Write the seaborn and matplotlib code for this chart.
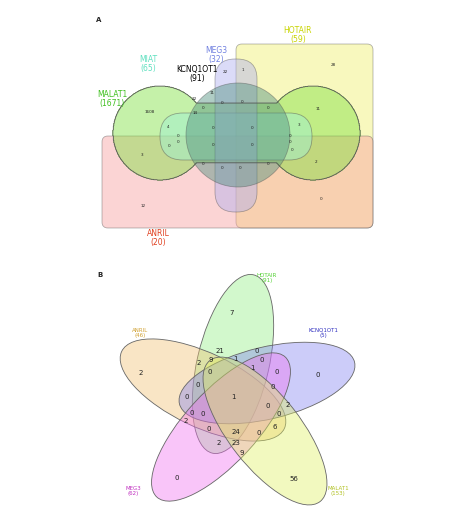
import numpy as np
import matplotlib
matplotlib.use("Agg")
import matplotlib.pyplot as plt
import seaborn as sns
from matplotlib.patches import Ellipse, FancyBboxPatch, Circle

sns.set_theme(style="white")
plt.rcParams['font.family'] = ['DejaVu Sans']

# ---------- Panel A data ----------
a_sets = ["HOTAIR", "MEG3", "MIAT", "KCNQ1OT1", "MALAT1", "ANRIL"]
a_sizes = [59, 32, 65, 91, 1671, 20]
a_label_colors = ["#c8d400", "#7080e0", "#60e0c0", "#000000", "#40c020", "#e04020"]
a_label_pos = [(298, 35), (216, 55), (148, 64), (197, 74), (112, 99), (158, 238)]
a_counts = [28, 1608, 11, 22, 1, 3, 12, 2, 0, 4, 3, 14, 22, 11,
            0, 0, 0, 0, 0, 0, 0, 0, 0, 0, 0, 0, 0, 0, 0, 0, 0, 0]
a_count_pos = [(333, 65), (150, 112), (318, 109), (225, 72), (243, 70), (142, 155),
               (143, 206), (316, 162), (321, 199), (168, 127), (299, 125), (195, 113),
               (194, 99), (212, 93),
               (213, 128), (252, 128), (213, 145), (252, 145), (222, 103), (242, 102),
               (222, 168), (240, 168), (178, 136), (178, 142), (290, 136), (290, 142),
               (169, 146), (292, 150), (203, 108), (268, 108), (203, 164), (268, 164)]

# ---------- Panel B data ----------
b_sets = ["HOTAIR", "ANRIL", "KCNQ1OT1", "MEG3", "MALAT1"]
b_sizes = [91, 46, 5, 62, 153]
b_colors = ["#90ee80", "#f0c070", "#8080f0", "#f070f0", "#e0f060"]
b_label_colors = ["#50d030", "#d0a030", "#3030c0", "#c030c0", "#b0c020"]
b_label_pos = [(267, 278), (140, 333), (323, 333), (133, 491), (338, 491)]
b_ellipses = [((233, 364), 183, 72, -77), ((203, 390), 180, 74, 25.4),
              ((267, 383), 180, 72, -13.4), ((221, 427), 190, 72, -47.5),
              ((265, 431), 179, 72, 52)]
b_counts = [7, 21, 0, 2, 9, 1, 0, 1, 0, 2, 0, 0, 0, 0, 0, 1, 0, 2, 0, 0, 0, 2,
            0, 24, 0, 6, 2, 23, 9, 0, 56]
b_count_pos = [(232, 313), (220, 351), (257, 351), (199, 363), (211, 360), (235, 359),
               (262, 360), (252, 368), (277, 372), (141, 373), (210, 372), (318, 375),
               (198, 385), (273, 387), (187, 397), (233, 397), (268, 406), (288, 405),
               (192, 413), (203, 414), (279, 414), (186, 421), (209, 429), (236, 432),
               (259, 433), (275, 427), (219, 443), (236, 443), (242, 453), (177, 478),
               (294, 479)]

fig = plt.figure(figsize=(4.74, 5.18), dpi=100)
ax = fig.add_axes([0, 0, 1, 1])
ax.set_xlim(0, 474)
ax.set_ylim(518, 0)
ax.axis("off")

# ---- Panel A shapes ----
ec = "#555555"
ax.add_patch(FancyBboxPatch((236, 44), 137, 184, boxstyle="round,pad=0,rounding_size=6",
                            fc="#f0f070", ec=ec, lw=0.6, alpha=0.45))
ax.add_patch(FancyBboxPatch((102, 136), 271, 92, boxstyle="round,pad=0,rounding_size=6",
                            fc="#f8a0a0", ec=ec, lw=0.6, alpha=0.45))
# MALAT1 as union of lobes
gx, gy = np.meshgrid(np.linspace(100, 380, 600), np.linspace(60, 210, 400))
mal = ((gx - 160) ** 2 + (gy - 133) ** 2 < 47 ** 2) | ((gx - 313) ** 2 + (gy - 133) ** 2 < 47 ** 2) \
      | ((np.abs(gx - 236) < 77) & (np.abs(gy - 133) < 30))
ax.contourf(gx, gy, mal.astype(float), levels=[0.5, 1.5], colors=["#80e040"], alpha=0.45)
ax.contour(gx, gy, mal.astype(float), levels=[0.5], colors=[ec], linewidths=0.6)
ax.add_patch(FancyBboxPatch((160, 113), 152, 47, boxstyle="round,pad=0,rounding_size=23",
                            fc="#a0f0d0", ec=ec, lw=0.6, alpha=0.5))
ax.add_patch(FancyBboxPatch((215, 59), 42, 153, boxstyle="round,pad=0,rounding_size=20",
                            fc="#b0b0f0", ec=ec, lw=0.6, alpha=0.45))
ax.add_patch(Circle((238, 135), 52, fc="#509080", ec=ec, lw=0.6, alpha=0.45))
for s, n, c, p in zip(a_sets, a_sizes, a_label_colors, a_label_pos):
    ax.text(p[0], p[1], f"{s}\n({n})", color=c, fontsize=5.5, ha="center", va="center",
            linespacing=0.9)
for n, p in zip(a_counts, a_count_pos):
    ax.text(p[0], p[1], str(n), fontsize=3, ha="center", va="center", color="#222222")
ax.text(99, 20, "A", fontsize=5, fontweight="bold", ha="center", va="center")

# ---- Panel B shapes ----
for (c, w, h, ang), col in zip(b_ellipses, b_colors):
    ax.add_patch(Ellipse(c, w, h, angle=ang, fc=col, ec="none", alpha=0.4))
    ax.add_patch(Ellipse(c, w, h, angle=ang, fc="none", ec="#666666", lw=0.6))
for s, n, c, p in zip(b_sets, b_sizes, b_label_colors, b_label_pos):
    ax.text(p[0], p[1], f"{s}\n({n})", color=c, fontsize=4, ha="center", va="center",
            linespacing=1.0)
for n, p in zip(b_counts, b_count_pos):
    ax.text(p[0], p[1], str(n), fontsize=5, ha="center", va="center", color="#222222")
ax.text(100, 275, "B", fontsize=5, fontweight="bold", ha="center", va="center")

fig.savefig("out.png", dpi=100, facecolor="white")
